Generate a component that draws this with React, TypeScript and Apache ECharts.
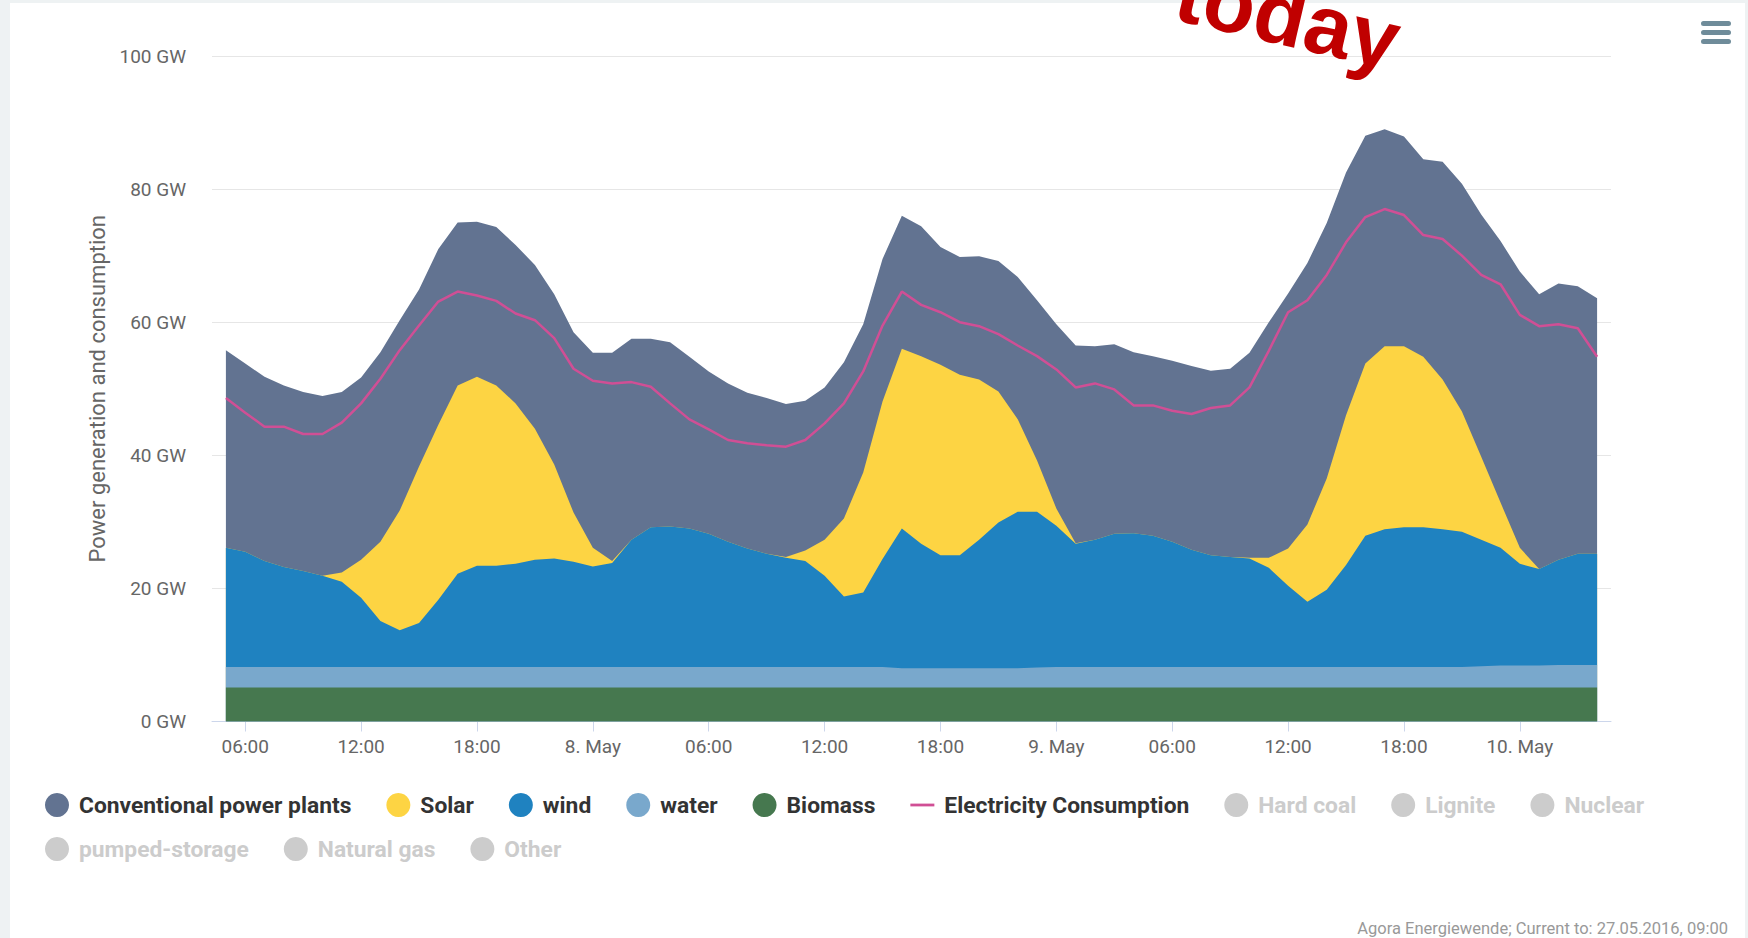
import React, { useEffect, useRef } from "react";
import * as echarts from "echarts";

// Hours since 7 May 2016 00:00
const hours = [5, 6, 7, 8, 9, 10, 11, 12, 13, 14, 15, 16, 17, 18, 19, 20, 21, 22, 23, 24, 25, 26, 27, 28, 29, 30, 31, 32, 33, 34, 35, 36, 37, 38, 39, 40, 41, 42, 43, 44, 45, 46, 47, 48, 49, 50, 51, 52, 53, 54, 55, 56, 57, 58, 59, 60, 61, 62, 63, 64, 65, 66, 67, 68, 69, 70, 71, 72, 73, 74, 75, 76];

const biomass = [5.1, 5.1, 5.1, 5.1, 5.1, 5.1, 5.1, 5.1, 5.1, 5.1, 5.1, 5.1, 5.1, 5.1, 5.1, 5.1, 5.1, 5.1, 5.1, 5.1, 5.1, 5.1, 5.1, 5.1, 5.1, 5.1, 5.1, 5.1, 5.1, 5.1, 5.1, 5.1, 5.1, 5.1, 5.1, 5.1, 5.1, 5.1, 5.1, 5.1, 5.1, 5.1, 5.1, 5.1, 5.1, 5.1, 5.1, 5.1, 5.1, 5.1, 5.1, 5.1, 5.1, 5.1, 5.1, 5.1, 5.1, 5.1, 5.1, 5.1, 5.1, 5.1, 5.1, 5.1, 5.1, 5.1, 5.1, 5.1, 5.1, 5.1, 5.1, 5.1];

const water = [3.1, 3.1, 3.1, 3.1, 3.1, 3.1, 3.1, 3.1, 3.1, 3.1, 3.1, 3.1, 3.1, 3.1, 3.1, 3.1, 3.1, 3.1, 3.1, 3.1, 3.1, 3.1, 3.1, 3.1, 3.1, 3.1, 3.1, 3.1, 3.1, 3.1, 3.1, 3.1, 3.1, 3.1, 3.1, 2.9, 2.9, 2.9, 2.9, 2.9, 2.9, 2.9, 3.0, 3.1, 3.1, 3.1, 3.1, 3.1, 3.1, 3.1, 3.1, 3.1, 3.1, 3.1, 3.1, 3.1, 3.1, 3.1, 3.1, 3.1, 3.1, 3.1, 3.1, 3.1, 3.1, 3.2, 3.3, 3.3, 3.3, 3.4, 3.4, 3.4];

const wind = [17.9, 17.3, 15.9, 15.0, 14.4, 13.7, 12.8, 10.4, 6.9, 5.5, 6.6, 10.1, 14.0, 15.2, 15.2, 15.5, 16.1, 16.3, 15.8, 15.1, 15.6, 19.1, 21.0, 21.1, 20.8, 20.0, 18.8, 17.8, 17.0, 16.4, 15.9, 13.7, 10.6, 11.2, 16.2, 21.0, 18.7, 17.0, 17.0, 19.3, 21.9, 23.5, 23.4, 21.2, 18.5, 19.1, 20.0, 20.1, 19.7, 18.8, 17.6, 16.8, 16.5, 16.3, 14.9, 12.2, 9.8, 11.6, 15.3, 19.7, 20.7, 21.0, 21.0, 20.7, 20.3, 19.0, 17.7, 15.3, 14.5, 15.8, 16.7, 16.7];

const solar = [0, 0, 0, 0, 0, 0, 1.4, 5.7, 11.9, 18.0, 23.5, 26.3, 28.3, 28.4, 27.1, 24.1, 19.7, 14.1, 7.4, 2.8, 0.3, 0, 0, 0, 0, 0, 0, 0, 0, 0.1, 1.6, 5.4, 11.7, 18.0, 23.7, 27.0, 28.2, 28.6, 27.1, 24.1, 19.7, 13.9, 7.7, 2.6, 0.1, 0, 0, 0, 0, 0, 0, 0, 0, 0.1, 1.5, 5.6, 11.6, 16.7, 22.5, 25.9, 27.5, 27.2, 25.6, 22.5, 18.1, 12.5, 6.8, 2.4, 0, 0, 0, 0];

const conventional = [29.7, 28.3, 27.7, 27.3, 26.9, 27.0, 27.1, 27.4, 28.5, 28.6, 26.6, 26.4, 24.5, 23.3, 23.8, 23.8, 24.6, 25.6, 27.1, 29.3, 31.3, 30.2, 28.3, 27.7, 25.8, 24.4, 23.8, 23.4, 23.4, 23.0, 22.5, 22.9, 23.5, 22.3, 21.4, 20.0, 19.5, 17.7, 17.7, 18.5, 19.6, 21.4, 24.1, 27.7, 29.7, 29.1, 28.5, 27.2, 27.0, 27.2, 27.6, 27.7, 28.3, 30.8, 35.4, 38.3, 39.3, 38.4, 36.5, 34.2, 32.6, 31.5, 29.7, 32.7, 34.2, 36.4, 39.3, 41.5, 41.3, 41.5, 40.2, 38.4];

const consumption = [48.6, 46.4, 44.3, 44.3, 43.2, 43.2, 44.9, 47.8, 51.5, 55.8, 59.5, 63.1, 64.6, 64.0, 63.2, 61.3, 60.3, 57.6, 53.0, 51.2, 50.8, 51.0, 50.3, 47.8, 45.4, 43.9, 42.3, 41.8, 41.5, 41.3, 42.3, 44.8, 47.8, 52.6, 59.5, 64.6, 62.6, 61.5, 60.0, 59.4, 58.2, 56.5, 54.9, 52.9, 50.2, 50.8, 49.9, 47.5, 47.5, 46.7, 46.2, 47.1, 47.5, 50.2, 55.7, 61.5, 63.3, 67.1, 72.0, 75.8, 77.0, 76.1, 73.1, 72.5, 70.0, 67.1, 65.7, 61.1, 59.4, 59.7, 59.1, 54.8];

const xTickValues = [6, 12, 18, 24, 30, 36, 42, 48, 54, 60, 66, 72];
const xTickLabels = ["06:00", "12:00", "18:00", "8. May", "06:00", "12:00", "18:00", "9. May", "06:00", "12:00", "18:00", "10. May"];

const legendRow1 = ["Conventional power plants", "Solar", "wind", "water", "Biomass", "Electricity Consumption", "Hard coal", "Lignite", "Nuclear"];
const legendRow2 = ["pumped-storage", "Natural gas", "Other"];
const hiddenSeries = ["Hard coal", "Lignite", "Nuclear", "pumped-storage", "Natural gas", "Other"];

const COLORS: Record<string, string> = {
  "Conventional power plants": "#627391",
  Solar: "#fdd443",
  wind: "#1f82c0",
  water: "#79a8cc",
  Biomass: "#46784f",
  "Electricity Consumption": "#d04f95",
};

const FONT = "Roboto, 'Open Sans', sans-serif";

// Running totals (bottom-up stacking: biomass, water, wind, solar, conventional)
function cumulative(layers: number[][]) {
  return hours.map((h, i) => [h, +layers.reduce((s, a) => s + a[i], 0).toFixed(2)]);
}

export default function App() {
  const ref = useRef<HTMLDivElement>(null);

  useEffect(() => {
    if (!ref.current) return;
    const chart = echarts.init(ref.current, undefined, { renderer: "svg" });

    const areaSeries = (name: string, layers: number[][]) => ({
      name,
      type: "line",
      data: cumulative(layers),
      symbol: "none",
      showSymbol: false,
      lineStyle: { width: 0 },
      itemStyle: { color: COLORS[name] },
      areaStyle: { color: COLORS[name], opacity: 1 },
      emphasis: { disabled: true },
      z: 2,
    });

    const legendItem = (n: string) =>
      n === "Electricity Consumption"
        ? { name: n, icon: "path://M0,0H26V3H0Z" }
        : { name: n, icon: "circle" };

    const selected1: Record<string, boolean> = {};
    legendRow1.forEach((n) => { if (hiddenSeries.includes(n)) selected1[n] = false; });
    const selected2: Record<string, boolean> = {};
    legendRow2.forEach((n) => { if (hiddenSeries.includes(n)) selected2[n] = false; });

    const legendCommon = {
      orient: "horizontal",
      left: 45,
      padding: 0,
      itemWidth: 24,
      itemHeight: 24,
      itemGap: 35,
      inactiveColor: "#cccccc",
      inactiveBorderColor: "#cccccc",
      textStyle: {
        fontFamily: FONT,
        fontSize: 22.8,
        fontWeight: "bold",
        color: "#333333",
        padding: [0, 0, 0, 5],
      },
    };

    chart.setOption({
      animation: false,
      grid: { left: 212, right: 137, top: 56, bottom: 216.5, containLabel: false },
      xAxis: {
        type: "value",
        min: 4.28,
        max: 76.72,
        splitLine: { show: false },
        axisLine: { show: true, lineStyle: { color: "#ccd6eb", width: 1 } },
        axisTick: { show: true, customValues: xTickValues, length: 10, lineStyle: { color: "#ccd6eb", width: 1 } },
        axisLabel: {
          customValues: xTickValues,
          formatter: (v: number) => {
            const i = xTickValues.indexOf(v);
            return i >= 0 ? xTickLabels[i] : "";
          },
          color: "#666666",
          fontFamily: FONT,
          fontSize: 19,
          margin: 15,
        },
      },
      yAxis: {
        type: "value",
        min: 0,
        max: 100,
        interval: 20,
        name: "Power generation and consumption",
        nameLocation: "middle",
        nameGap: 104,
        nameTextStyle: { color: "#666666", fontFamily: FONT, fontSize: 22 },
        axisLine: { show: false },
        axisTick: { show: false },
        splitLine: { lineStyle: { color: "#e6e6e6", width: 1 } },
        axisLabel: {
          formatter: "{value} GW",
          color: "#666666",
          fontFamily: FONT,
          fontSize: 19,
          margin: 26,
        },
      },
      legend: [
        { ...legendCommon, top: 793, data: legendRow1.map(legendItem), selected: selected1 },
        { ...legendCommon, top: 837, data: legendRow2.map(legendItem), selected: selected2 },
      ],
      series: [
        areaSeries("Conventional power plants", [biomass, water, wind, solar, conventional]),
        areaSeries("Solar", [biomass, water, wind, solar]),
        areaSeries("wind", [biomass, water, wind]),
        areaSeries("water", [biomass, water]),
        areaSeries("Biomass", [biomass]),
        {
          name: "Electricity Consumption",
          type: "line",
          data: hours.map((h, i) => [h, consumption[i]]),
          symbol: "none",
          showSymbol: false,
          lineStyle: { width: 2.5, color: COLORS["Electricity Consumption"] },
          itemStyle: { color: COLORS["Electricity Consumption"] },
          emphasis: { disabled: true },
          z: 3,
        },
        ...hiddenSeries.map((n) => ({ name: n, type: "line", data: [], itemStyle: { color: "#999999" } })),
      ],
      graphic: [
        {
          type: "group",
          silent: true,
          children: [
            { type: "rect", shape: { x: 1701, y: 21, width: 30, height: 5, r: 2.5 }, style: { fill: "#6f8c9a" } },
            { type: "rect", shape: { x: 1701, y: 30, width: 30, height: 5, r: 2.5 }, style: { fill: "#6f8c9a" } },
            { type: "rect", shape: { x: 1701, y: 39, width: 30, height: 5, r: 2.5 }, style: { fill: "#6f8c9a" } },
          ],
        },
        {
          type: "text",
          x: 1728,
          y: 928,
          silent: true,
          style: {
            text: "Agora Energiewende; Current to: 27.05.2016, 09:00",
            fill: "#999999",
            font: `16.5px ${FONT}`,
            align: "right",
            textAlign: "right",
            verticalAlign: "middle",
            textVerticalAlign: "middle",
          },
        },
        {
          type: "text",
          x: 1288,
          y: 16,
          rotation: -0.23,
          silent: true,
          z: 100,
          style: {
            text: "today",
            fill: "#c00000",
            font: "bold 85px 'Liberation Sans', Arial, sans-serif",
            align: "center",
            textAlign: "center",
            verticalAlign: "middle",
            textVerticalAlign: "middle",
          },
        },
      ],
    });

    return () => chart.dispose();
  }, []);

  return (
    <div style={{ position: "absolute", left: 0, top: 0, width: 1748, height: 938, background: "#eef2f3", overflow: "hidden" }}>
      <div style={{ position: "absolute", left: 10, top: 3, width: 1735, height: 935, background: "#ffffff" }} />
      <div ref={ref} style={{ position: "absolute", left: 0, top: 0, width: 1748, height: 938 }} />
    </div>
  );
}
